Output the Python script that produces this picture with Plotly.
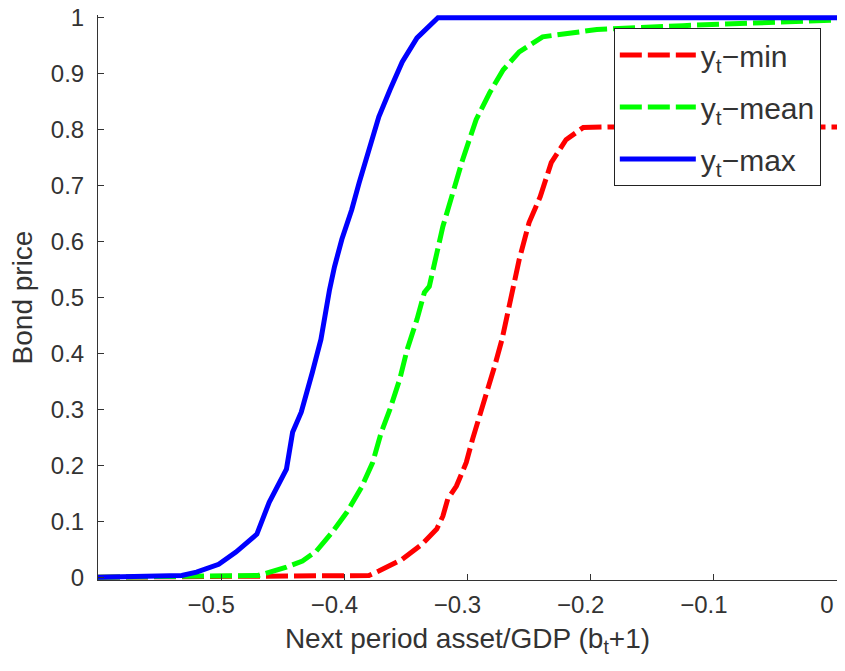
import plotly.graph_objects as go

# Data
x_max = [-0.600, -0.532, -0.520, -0.502, -0.488, -0.471, -0.461, -0.453, -0.447, -0.442,
         -0.435, -0.426, -0.419, -0.412, -0.408, -0.402, -0.394, -0.388, -0.380, -0.372,
         -0.363, -0.353, -0.341, -0.324, 0.000]
y_max = [0.000, 0.003, 0.009, 0.023, 0.045, 0.077, 0.134, 0.170, 0.193, 0.259,
         0.295, 0.366, 0.425, 0.514, 0.555, 0.604, 0.657, 0.705, 0.764, 0.823,
         0.871, 0.921, 0.964, 1.000, 1.000]

x_mean = [-0.600, -0.470, -0.447, -0.434, -0.423, -0.410, -0.398, -0.386, -0.377, -0.370,
          -0.363, -0.355, -0.349, -0.341, -0.335, -0.331, -0.320, -0.312, -0.304, -0.293,
          -0.282, -0.271, -0.258, -0.239, -0.217, -0.195, -0.125, 0.000]
y_mean = [0.000, 0.003, 0.018, 0.029, 0.046, 0.080, 0.116, 0.161, 0.205, 0.259,
          0.300, 0.354, 0.407, 0.461, 0.509, 0.520, 0.627, 0.687, 0.746, 0.818,
          0.866, 0.907, 0.939, 0.966, 0.973, 0.979, 0.986, 0.996]

x_min = [-0.600, -0.380, -0.372, -0.353, -0.337, -0.330, -0.325, -0.320, -0.316, -0.309,
         -0.301, -0.296, -0.290, -0.284, -0.278, -0.272, -0.267, -0.263, -0.258, -0.250,
         -0.241, -0.232, -0.220, -0.206, -0.185, 0.000]
y_min = [0.000, 0.003, 0.011, 0.032, 0.059, 0.073, 0.086, 0.109, 0.140, 0.163,
         0.205, 0.246, 0.288, 0.336, 0.377, 0.425, 0.473, 0.514, 0.568, 0.634,
         0.680, 0.741, 0.782, 0.804, 0.805, 0.805]

x_ticks = [-0.5, -0.4, -0.3, -0.2, -0.1, 0]
x_tick_labels = ["\u22120.5", "\u22120.4", "\u22120.3", "\u22120.2", "\u22120.1", "0"]
y_ticks = [0, 0.1, 0.2, 0.3, 0.4, 0.5, 0.6, 0.7, 0.8, 0.9, 1]
y_tick_labels = ["0", "0.1", "0.2", "0.3", "0.4", "0.5", "0.6", "0.7", "0.8", "0.9", "1"]

FONT = "Liberation Sans"
TXT = "#333333"

fig = go.Figure()
fig.add_trace(go.Scatter(x=x_min, y=y_min, mode="lines", name="y<sub>t</sub>\u2212min",
                         legendgroup="a",
                         line=dict(color="#FF0000", width=5, dash="22px,6px")))
fig.add_trace(go.Scatter(x=x_mean, y=y_mean, mode="lines", name="y<sub>t</sub>\u2212mean",
                         legendgroup="b",
                         line=dict(color="#00FF00", width=5, dash="22px,6px")))
fig.add_trace(go.Scatter(x=x_max, y=y_max, mode="lines", name="y<sub>t</sub>\u2212max",
                         legendgroup="c",
                         line=dict(color="#0000FF", width=5)))

fig.update_layout(
    width=845, height=671,
    margin=dict(l=98, r=8, t=15, b=91, autoexpand=False),
    plot_bgcolor="white", paper_bgcolor="white",
    font=dict(family=FONT, size=24, color=TXT),
    legend=dict(x=0.698, y=0.977, xanchor="left", yanchor="top",
                bgcolor="white", bordercolor="#222", borderwidth=1,
                font=dict(family=FONT, size=30, color=TXT),
                itemwidth=76, tracegroupgap=10, traceorder="grouped"),
    showlegend=True,
)
fig.update_xaxes(range=[-0.6, 0], tickvals=x_ticks, ticktext=x_tick_labels,
                 automargin=False,
                 showline=True, linecolor="#333", linewidth=1, mirror=False,
                 ticks="inside", ticklen=6, tickcolor="#333", tickwidth=1,
                 showgrid=False, zeroline=False, ticklabelstandoff=3, ticklabelshift=-10,
                 title=dict(text="Next period asset/GDP (b<sub>t</sub>+1)", standoff=11,
                            font=dict(family=FONT, size=28, color=TXT)))
fig.update_yaxes(range=[-0.005, 1.005], tickvals=y_ticks, ticktext=y_tick_labels,
                 automargin=False,
                 showline=True, linecolor="#333", linewidth=1, mirror=False,
                 ticks="inside", ticklen=6, tickcolor="#333", tickwidth=1,
                 showgrid=False, zeroline=False, ticklabelstandoff=8,
                 title=dict(text="Bond price", standoff=10,
                            font=dict(family=FONT, size=28, color=TXT)))

fig.write_html("out.html", config={"displayModeBar": False},
               post_script="document.body.style.margin='0';")
